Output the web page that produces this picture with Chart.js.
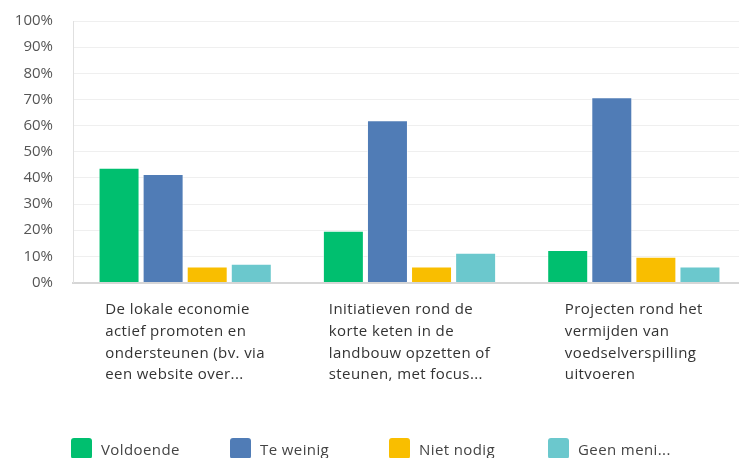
<!DOCTYPE html>
<html>
<head>
<meta charset="utf-8">
<script src="https://cdn.jsdelivr.net/npm/chart.js@4"></script>
<style>
  html, body { margin: 0; padding: 0; background: #fff; overflow: hidden; }
  #wrap { position: relative; width: 750px; height: 458px; overflow: hidden; }
  #c { position: absolute; left: 0; top: -8px; }
  #legend { position: absolute; left: 71px; top: 438px; display: flex; font-family: "Open Sans", sans-serif; font-size: 15px; letter-spacing: 0.4px; color: #444; }
  #legend .item { width: 159px; display: flex; align-items: center; }
  #legend .box { width: 21px; height: 21px; border-radius: 3px; margin-right: 9px; }
</style>
</head>
<body>
<div id="wrap">
  <canvas id="c" width="750" height="466"></canvas>
  <div id="legend"></div>
</div>
<script>
// categories (shown as wrapped text under each group)
let categories = [
    ["De lokale economie", "actief promoten en", "ondersteunen (bv. via", "een website over..."],
    ["Initiatieven rond de", "korte keten in de", "landbouw opzetten of", "steunen, met focus..."],
    ["Projecten rond het", "vermijden van", "voedselverspilling", "uitvoeren"]
];

let seriesNames = ["Voldoende", "Te weinig", "Niet nodig", "Geen meni..."];
let seriesColors = ["#00BF6F", "#507CB6", "#F9BE00", "#6BC8CD"];

// percentages
let voldoende = [43.9, 19.8, 12.4];
let teWeinig = [41.5, 62.0, 70.8];
let nietNodig = [6.1, 6.1, 9.8];
let geenMening = [7.2, 11.4, 6.1];

let yTicks = [0, 10, 20, 30, 40, 50, 60, 70, 80, 90, 100];

let values = [voldoende, teWeinig, nietNodig, geenMening];

// x labels: block centred under group, lines left aligned
const labelPlugin = {
    id: "labels",
    afterDraw(chart){
        let ctx = chart.ctx;
        let xs = chart.scales.x;
        let y0 = chart.chartArea.bottom + 27.5;
        ctx.save();
        ctx.font = "15px 'Open Sans', sans-serif";
        ctx.letterSpacing = "0.4px";
        ctx.fillStyle = "#333";
        ctx.textBaseline = "middle";
        ctx.textAlign = "left";
        categories.forEach((lines, i) => {
            let cx = xs.getPixelForValue(i);
            let w = Math.max(...lines.map(l => ctx.measureText(l).width));
            let left = cx - w / 2;
            lines.forEach((l, k) => {
                ctx.fillText(l, left, y0 + k * 21.7);
            });
        });
        ctx.restore();
    }
};

let chart = new Chart(document.getElementById("c"), {
    type: "bar",
    data: {
        labels: categories.map((c, i) => "g" + i),
        datasets: seriesNames.map((n, i) => ({
            label: n,
            data: values[i],
            backgroundColor: seriesColors[i],
            borderColor: "rgba(255,255,255,0.6)",
            borderWidth: 1,
            barPercentage: 0.93,
            categoryPercentage: 0.786
        }))
    },
    options: {
        responsive: false,
        animation: false,
        layout: { padding: { top: 1, right: 4, bottom: 0, left: 0 } },
        plugins: { legend: { display: false }, tooltip: { enabled: false } },
        scales: {
            x: {
                ticks: { display: false },
                grid: { display: false },
                border: { color: "#d6d6d6", width: 2 },
                afterFit(s){ s.height = 175.5; }
            },
            y: {
                min: 0,
                max: 100,
                afterBuildTicks(s){ s.ticks = yTicks.map(v => ({ value: v })); },
                ticks: {
                    callback: v => v + "%",
                    font: { family: "'Open Sans', sans-serif", size: 15 },
                    color: "#555",
                    padding: 20
                },
                grid: { color: "#efefef", drawTicks: false },
                border: { color: "#e0e0e0" },
                afterFit(s){ s.width = 73; }
            }
        }
    },
    plugins: [labelPlugin]
});

// legend from the chart's datasets
let lg = document.getElementById("legend");
chart.data.datasets.forEach(ds => {
    let it = document.createElement("div");
    it.className = "item";
    it.innerHTML = '<span class="box" style="background:' + ds.backgroundColor + '"></span><span>' + ds.label + '</span>';
    lg.appendChild(it);
});
</script>
</body>
</html>
